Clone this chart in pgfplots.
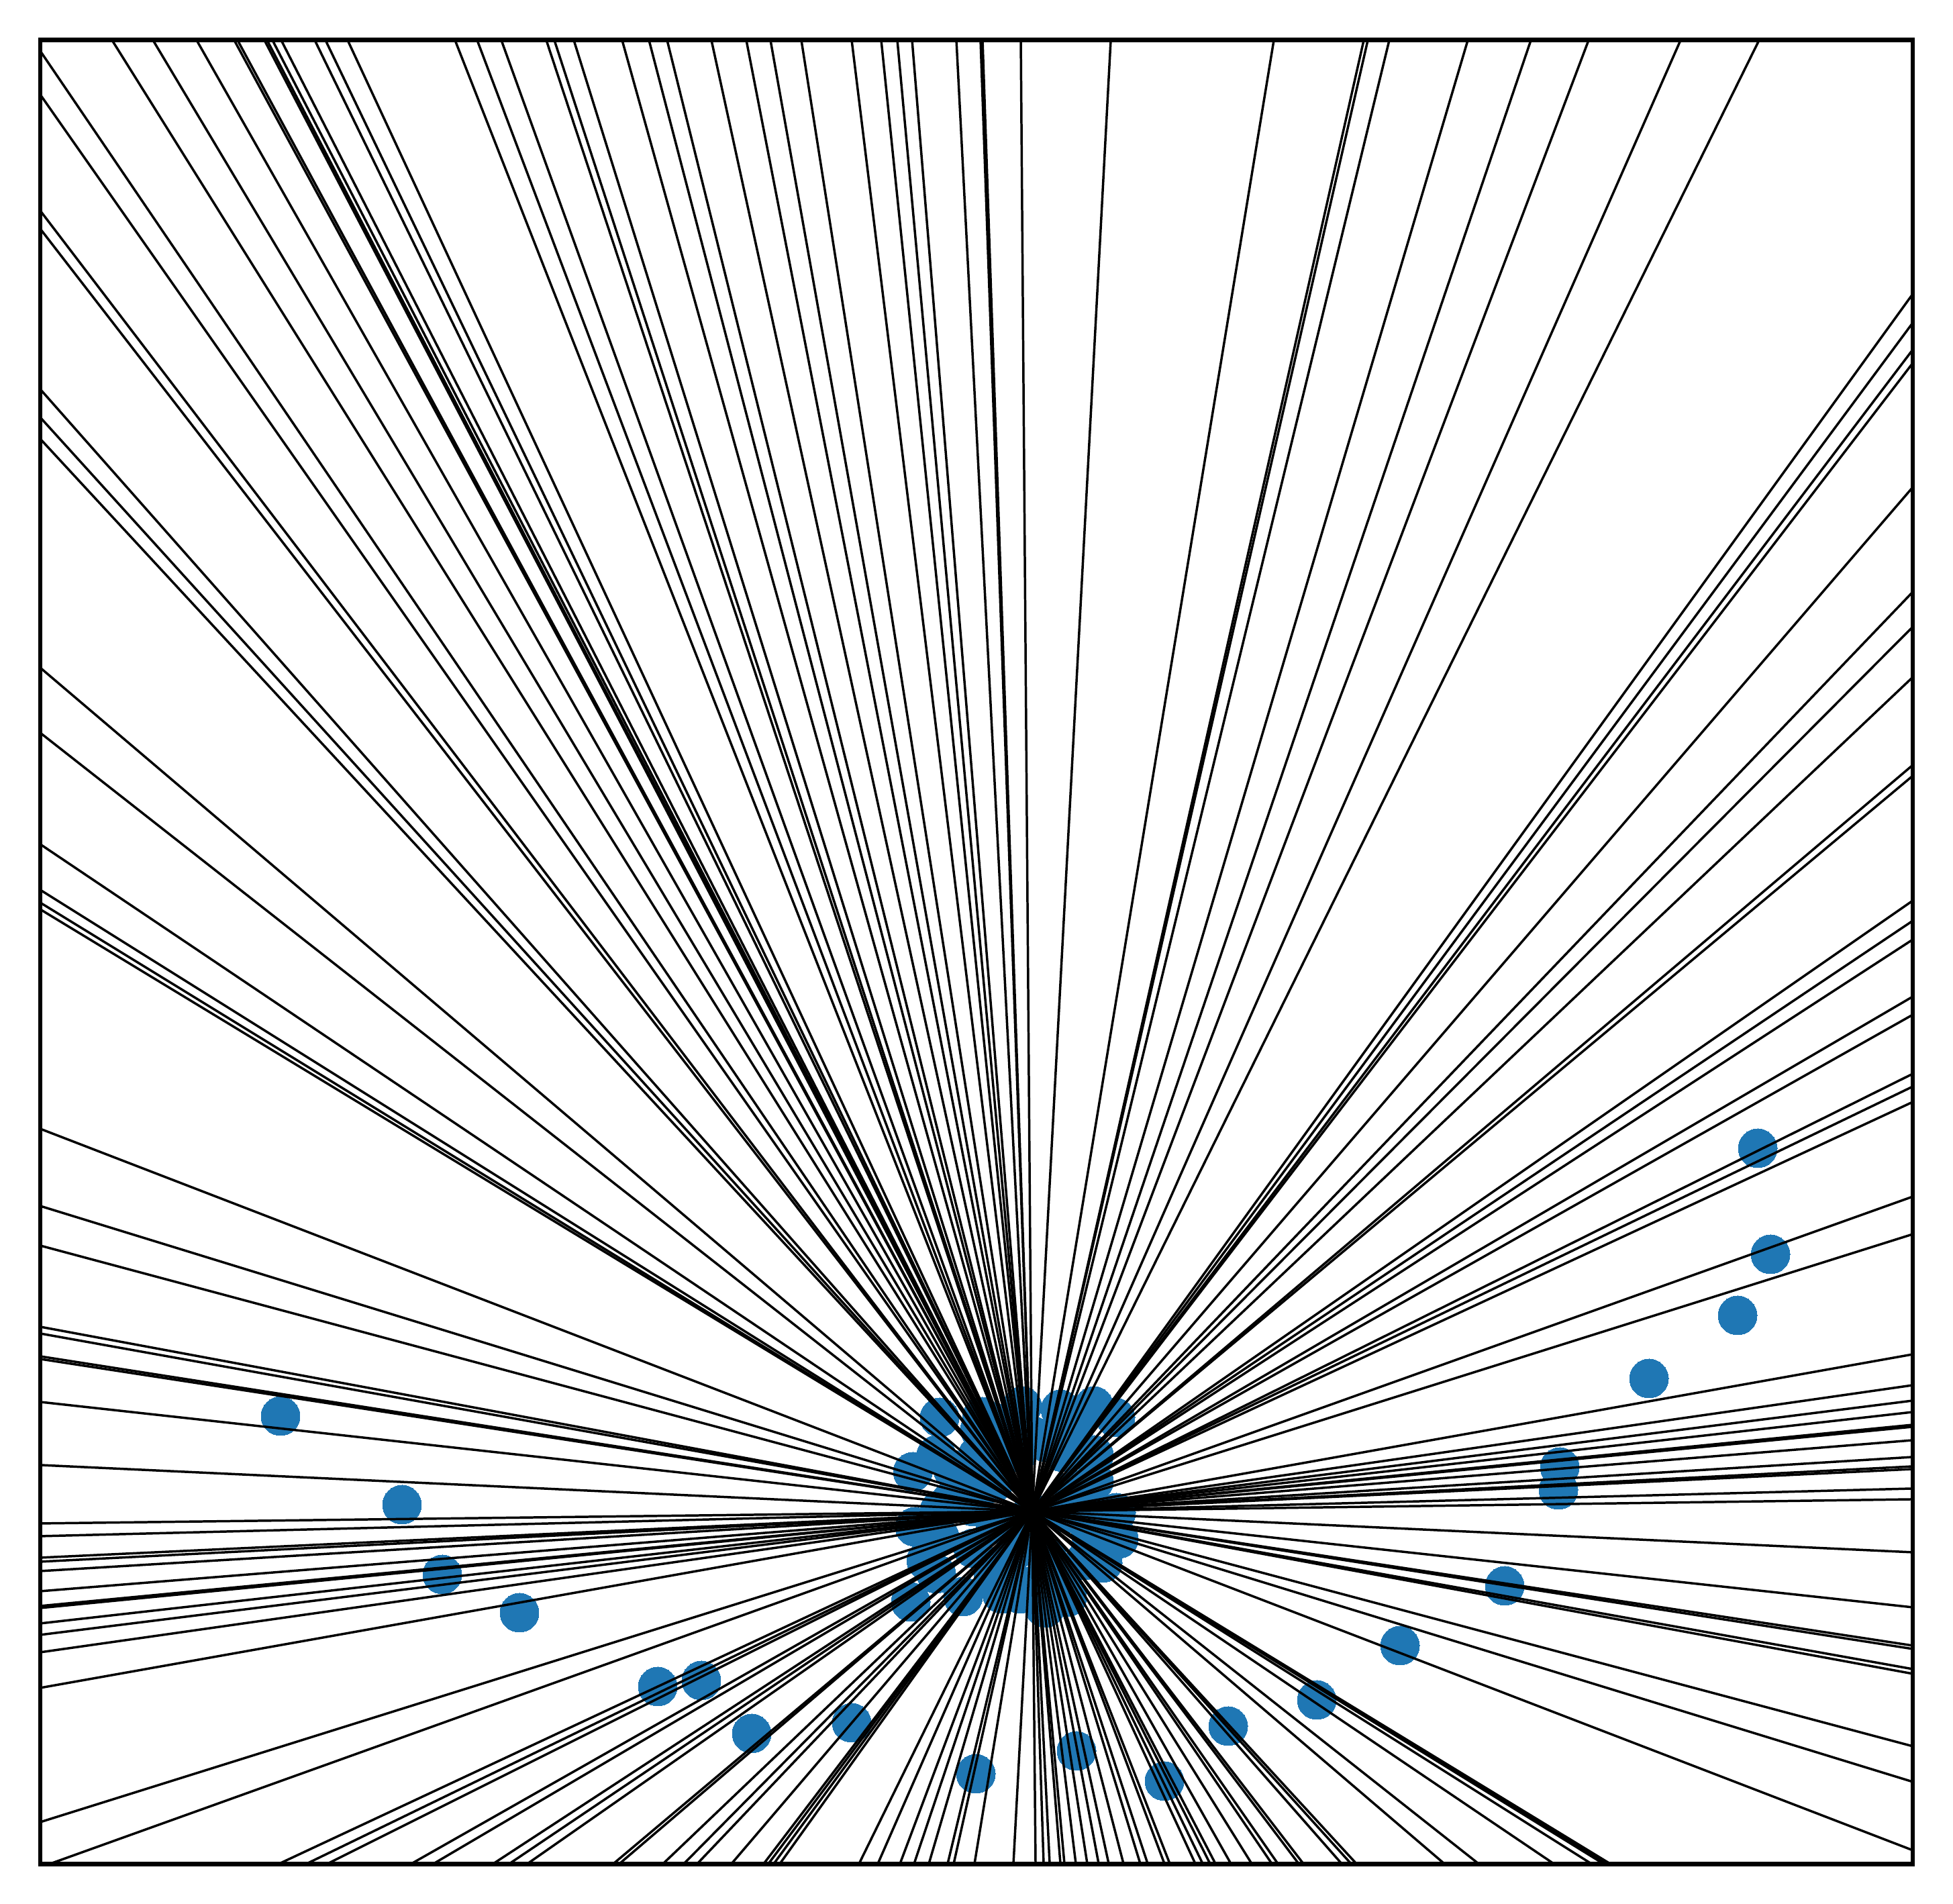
\documentclass[border=0pt]{standalone}
\usepackage{pgfplots}
\pgfplotsset{compat=1.18}
\definecolor{tabblue}{HTML}{1F77B4}

% all values are pixel positions in the 2910x2837 reference
\pgfplotstableread{
x y
1400 2112
1463 2111
1523 2095
1580 2100
1630 2095
1662 2112
1630 2168
1395 2168
1360 2193
1457 2168
1630 2207
1417 2236
1663 2254
1363 2275
1667 2293
1380 2325
1643 2329
1357 2387
1435 2379
1493 2375
1520 2375
1557 2396
1617 2325
1517 2164
1583 2164
1483 2271
1590 2255
1537 2254
1450 2307
1583 2343
1517 2307
1395 2345
1480 2210
1540 2140
1450 2245
1400 2290
1600 2220
1560 2320
1480 2350
1640 2260
1500 2120
1460 2130
1600 2130
1420 2190
1545 2360
1460 2190
1430 2215
1400 2250
1620 2260
1625 2285
1640 2295
1500 2330
1590 2380
1560 2150
1480 2150
2619 1711
2638 1869
2589 1960
2457 2054
2324 2186
2322 2220
2242 2363
2086 2452
1962 2533
1830 2572
1735 2654
1604 2609
1454 2643
1269 2567
1120 2583
1045 2504
980 2513
774 2403
659 2346
599 2242
418 2110
}\dots

% where each ray leaves the frame
\pgfplotstableread{
x y
167 60
228 60
293 60
349 60
354 60
394 60
398 60
406 60
419 60
469 60
485 60
518 60
678 60
711 60
747 60
814 60
826 60
855 60
927 60
967 60
994 60
1060 60
1112 60
1148 60
1194 60
1269 60
1313 60
1337 60
1359 60
1425 60
1461 60
1464 60
1521 60
1655 60
1898 60
2032 60
2038 60
2070 60
2187 60
2281 60
2367 60
2504 60
2621 60
60 76
60 141
60 314
60 341
60 580
60 622
60 654
60 995
60 1092
60 1258
60 1326
60 1345
60 1355
60 1682
60 1797
60 1856
60 1977
60 1987
60 2021
60 2025
60 2089
60 2183
60 2270
60 2289
60 2321
60 2327
60 2341
60 2371
60 2393
60 2396
60 2419
60 2436
60 2462
60 2515
60 2715
75 2777
416 2777
457 2777
488 2777
613 2777
646 2777
735 2777
759 2777
786 2777
914 2777
923 2777
988 2777
1019 2777
1039 2777
1090 2777
1138 2777
1145 2777
1153 2777
1162 2777
1280 2777
1308 2777
1341 2777
1362 2777
1384 2777
1412 2777
1421 2777
1452 2777
1510 2777
1543 2777
1555 2777
1564 2777
1580 2777
1586 2777
1603 2777
1620 2777
1637 2777
1652 2777
1674 2777
1699 2777
1710 2777
1735 2777
1743 2777
1781 2777
1792 2777
1803 2777
1811 2777
1834 2777
1865 2777
1895 2777
1904 2777
1935 2777
1942 2777
1999 2777
2013 2777
2021 2777
2152 2777
2203 2777
2315 2777
2371 2777
2389 2777
2393 2777
2399 2777
2850 438
2850 481
2850 521
2850 541
2850 726
2850 882
2850 934
2850 1009
2850 1140
2850 1156
2850 1342
2850 1372
2850 1400
2850 1485
2850 1512
2850 1600
2850 1619
2850 1642
2850 1783
2850 1839
2850 2018
2850 2064
2850 2087
2850 2104
2850 2123
2850 2126
2850 2146
2850 2171
2850 2185
2850 2189
2850 2218
2850 2234
2850 2313
2850 2395
2850 2452
2850 2457
2850 2487
2850 2494
2850 2602
2850 2655
2850 2757
}\rays

\begin{document}
\begin{tikzpicture}
\useasboundingbox (0,0) rectangle (350.51pt,341.71pt);
\begin{axis}[at={(7.227pt,7.167pt)},anchor=south west,
  scale only axis,width=336.06pt,height=327.38pt,
  xmin=60,xmax=2850,ymin=59.5,ymax=2777.5,y dir=reverse,
  xtick=\empty,ytick=\empty,clip marker paths=true,
  axis line style={line width=0.8pt},axis on top]
\addplot[only marks,color=tabblue,mark=*,mark size=3.49pt,mark options={draw=tabblue,fill=tabblue,line width=0pt}] table {\dots};
\addplot[black,line width=0.42pt,no markers,quiver={u={1538-\thisrow{x}},v={2252-\thisrow{y}}}] table {\rays};
\end{axis}
\end{tikzpicture}
\end{document}
